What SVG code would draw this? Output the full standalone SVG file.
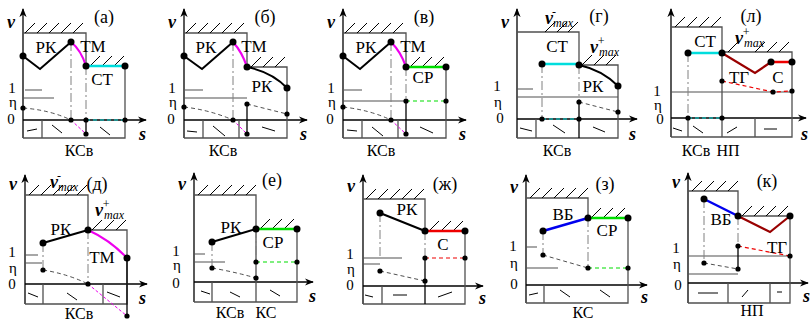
<svg xmlns="http://www.w3.org/2000/svg" width="810" height="324" viewBox="0 0 810 324">
<style>
.ax{stroke:#000;stroke-width:1.3;fill:none}
.bx{stroke:#505050;stroke-width:1.3;fill:none}
.ht{stroke:#000;stroke-width:1;fill:none}
.th{stroke:#505050;stroke-width:1.2;fill:none}
.dd{stroke:#505050;stroke-width:1;stroke-dasharray:4 3;fill:none}
.dc{stroke:#808080;stroke-width:1;stroke-dasharray:9 3 2 3;fill:none}
.rk{stroke:#000;stroke-width:2;fill:none}
.mg{stroke:#ee00ee;stroke-width:2.2;fill:none}
.mgd{stroke:#ee00ee;stroke-width:1;stroke-dasharray:3 2;fill:none}
.cy{stroke:#00dddd;stroke-width:2.5;fill:none}
.cyd{stroke:#00dddd;stroke-width:1.2;stroke-dasharray:4 3;fill:none}
.gr{stroke:#00dd00;stroke-width:2.5;fill:none}
.grd{stroke:#00dd00;stroke-width:1.2;stroke-dasharray:4 3;fill:none}
.rd{stroke:#ee0000;stroke-width:2.5;fill:none}
.rdd{stroke:#ee0000;stroke-width:1.2;stroke-dasharray:4 3;fill:none}
.br{stroke:#990000;stroke-width:2.2;fill:none}
.bl{stroke:#0000ee;stroke-width:2.5;fill:none}
.mk{stroke:#000;stroke-width:1;fill:none}
.t{font-family:"Liberation Serif",serif;font-size:17px;text-anchor:middle;fill:#000}
.n{font-family:"Liberation Serif",serif;font-size:15px;text-anchor:middle;fill:#000}
.k{font-family:"Liberation Serif",serif;font-size:16px;text-anchor:middle;fill:#000}
.p{font-family:"Liberation Serif",serif;font-size:18px;text-anchor:middle;fill:#000}
.it{font-family:"Liberation Serif",serif;font-size:18px;font-style:italic;font-weight:bold;fill:#000}
.sm{font-family:"Liberation Serif",serif;font-size:12px;font-style:italic;font-weight:normal}
</style>
<defs>
<marker id="ar" viewBox="0 0 10 10" refX="9" refY="5" markerWidth="9" markerHeight="9" orient="auto" markerUnits="userSpaceOnUse"><path d="M0,1 L10,5 L0,9 L3,5 Z" fill="#000"/></marker>
</defs>

<!-- panel а -->
<g id="panel-a">
<path class="ax" d="M23,138 V9" marker-end="url(#ar)"/>
<path class="ax" d="M23,120 H146" marker-end="url(#ar)"/>
<text class="it" x="7" y="28">v</text>
<text class="p" x="104" y="23">(а)</text>
<path class="bx" d="M23,33 H86 V66 H125 V138 H23 M42,120 V138"/>
<path class="ht" d="M25,33 l10,-10 M37,33 l10,-10 M49,33 l10,-10 M61,33 l10,-10 M73,33 l10,-10 M90,66 l10,-10 M102,66 l10,-10 M114,66 l10,-10"/>
<path class="th" d="M25,90 H42 M23,98 H54"/>
<text class="n" x="12" y="93">1</text><text class="n" x="13" y="107">η</text><text class="n" x="11" y="124">0</text>
<path class="dc" d="M71,42 V120 M86,66 V120"/>
<polyline class="rk" points="23,56 40,69 71,42"/>
<path class="mg" d="M71,42 Q81,50 86,66"/>
<path class="cy" d="M86,66 H125"/>
<path class="dd" d="M23,108 Q50,110 71,120"/>
<path class="mgd" d="M71,120 L86,134"/>
<path class="cyd" d="M86,120 H125"/>
<path class="ax" d="M86,120 V134"/>
<path class="mk" d="M27,131 L37,129 M52,125 L62,133 M100,127 L110,135"/>
<g fill="#000"><circle cx="23" cy="56" r="3.5"/><circle cx="71" cy="42" r="3.5"/><circle cx="86" cy="66" r="3.5"/><circle cx="125" cy="66" r="3.5"/>
<circle cx="23" cy="108" r="2.6"/><circle cx="71" cy="120" r="2.6"/><circle cx="86" cy="120" r="2.6"/><circle cx="125" cy="120" r="2.6"/><circle cx="86" cy="134" r="2.6"/></g>
<text class="t" x="46" y="53">РК</text><text class="t" x="93" y="52">ТМ</text><text class="t" x="102" y="85">СТ</text>
<text class="it" x="139" y="140">s</text><text class="k" x="79" y="156">КСв</text>
</g>

<!-- panel б -->
<g id="panel-b">
<path class="ax" d="M184,138 V9" marker-end="url(#ar)"/>
<path class="ax" d="M184,120 H307" marker-end="url(#ar)"/>
<text class="it" x="168" y="28">v</text>
<text class="p" x="265" y="23">(б)</text>
<path class="bx" d="M184,33 H247 V67 H287 V138 H184 M203,120 V138 M239,120 V138"/>
<path class="ht" d="M186,33 l10,-10 M198,33 l10,-10 M210,33 l10,-10 M222,33 l10,-10 M234,33 l10,-10 M251,67 l10,-10 M263,67 l10,-10 M275,67 l10,-10"/>
<path class="th" d="M185,90 H203 M184,98 H247"/>
<text class="n" x="172" y="93">1</text><text class="n" x="173" y="107">η</text><text class="n" x="171" y="124">0</text>
<path class="dc" d="M233,42 V120"/>
<polyline class="rk" points="184,56 202,69 233,42"/>
<path class="mg" d="M233,42 Q242,52 247,67"/>
<path class="rk" d="M247,67 Q272,72 287,88"/>
<path class="dd" d="M184,107 Q210,110 233,120 M247,104 L287,114"/>
<path class="mgd" d="M233,120 L247,134"/>
<path class="ax" d="M247,104 V134"/>
<path class="mk" d="M187,131 L197,132 M213,126 L225,136 M262,127 L275,131"/>
<g fill="#000"><circle cx="184" cy="56" r="3.5"/><circle cx="233" cy="42" r="3.5"/><circle cx="247" cy="67" r="3.5"/><circle cx="287" cy="88" r="3.5"/>
<circle cx="184" cy="107" r="2.6"/><circle cx="233" cy="120" r="2.6"/><circle cx="247" cy="104" r="2.6"/><circle cx="247" cy="134" r="2.6"/><circle cx="287" cy="114" r="2.6"/></g>
<text class="t" x="206" y="53">РК</text><text class="t" x="254" y="52">ТМ</text><text class="t" x="262" y="92">РК</text>
<text class="it" x="300" y="140">s</text><text class="k" x="223" y="156">КСв</text>
</g>

<!-- panel в -->
<g id="panel-v">
<path class="ax" d="M343,138 V9" marker-end="url(#ar)"/>
<path class="ax" d="M343,120 H466" marker-end="url(#ar)"/>
<text class="it" x="327" y="28">v</text>
<text class="p" x="424" y="23">(в)</text>
<path class="bx" d="M343,33 H406 V67 H446 V138 H343 M362,120 V138 M398,120 V138"/>
<path class="ht" d="M345,33 l10,-10 M357,33 l10,-10 M369,33 l10,-10 M381,33 l10,-10 M393,33 l10,-10 M410,67 l10,-10 M422,67 l10,-10 M434,67 l10,-10"/>
<path class="th" d="M344,90 H362 M343,101 H406"/>
<text class="n" x="331" y="93">1</text><text class="n" x="332" y="107">η</text><text class="n" x="330" y="124">0</text>
<path class="dc" d="M391,42 V120 M406,67 V101"/>
<polyline class="rk" points="343,56 360,69 391,42"/>
<path class="mg" d="M391,42 Q401,52 406,67"/>
<path class="gr" d="M406,67 H446"/>
<path class="dd" d="M343,107 Q370,110 391,120"/>
<path class="mgd" d="M391,120 L406,134"/>
<path class="ax" d="M406,101 V134"/>
<path class="grd" d="M406,101 H446"/>
<path class="mk" d="M347,130 L357,131 M372,127 L383,136 M420,127 L433,133"/>
<g fill="#000"><circle cx="343" cy="56" r="3.5"/><circle cx="391" cy="42" r="3.5"/><circle cx="406" cy="67" r="3.5"/><circle cx="446" cy="67" r="3.5"/>
<circle cx="343" cy="107" r="2.6"/><circle cx="391" cy="120" r="2.6"/><circle cx="406" cy="101" r="2.6"/><circle cx="446" cy="101" r="2.6"/><circle cx="406" cy="134" r="2.6"/></g>
<text class="t" x="366" y="53">РК</text><text class="t" x="413" y="52">ТМ</text><text class="t" x="423" y="83">СР</text>
<text class="it" x="459" y="140">s</text><text class="k" x="381" y="156">КСв</text>
</g>

<!-- panel г -->
<g id="panel-g">
<path class="ax" d="M517,138 V9" marker-end="url(#ar)"/>
<path class="ax" d="M517,119 H637" marker-end="url(#ar)"/>
<text class="it" x="501" y="28">v</text>
<text class="it" x="545" y="24">v<tspan class="sm" dx="-1" dy="-8">-</tspan><tspan class="sm" dx="-3" dy="11">max</tspan></text>
<text class="p" x="599" y="22">(г)</text>
<path class="bx" d="M517,32 H579 V65 H618 V138 H517 M536,119 V138"/>
<path class="ht" d="M545,32 l10,-10 M557,32 l10,-10 M568,32 l10,-10 M582,65 l10,-10 M594,65 l10,-10 M606,65 l10,-10"/>
<text class="it" x="590" y="53">v<tspan class="sm" dx="-1" dy="-8">+</tspan><tspan class="sm" dx="-6" dy="11">max</tspan></text>
<path class="th" d="M517,89 H533 M517,97 H618"/>
<text class="n" x="497" y="91">1</text><text class="n" x="498" y="107">η</text><text class="n" x="500" y="123">0</text>
<path class="dc" d="M542,64 V119 M579,65 V102"/>
<path class="cy" d="M542,64 H579"/>
<path class="rk" d="M579,65 Q602,70 618,86"/>
<path class="dd" d="M579,102 L618,112"/>
<path class="cyd" d="M542,119 H579"/>
<path class="ax" d="M579,102 V138"/>
<path class="mk" d="M520,128 L532,131 M553,125 L565,133 M593,127 L605,132"/>
<g fill="#000"><circle cx="542" cy="64" r="3.5"/><circle cx="579" cy="65" r="3.5"/><circle cx="618" cy="86" r="3.5"/>
<circle cx="579" cy="102" r="2.6"/><circle cx="618" cy="112" r="2.6"/><circle cx="542" cy="119" r="2.6"/><circle cx="579" cy="119" r="2.6"/></g>
<text class="t" x="557" y="52">СТ</text><text class="t" x="593" y="92">РК</text>
<text class="it" x="629" y="140">s</text><text class="k" x="557" y="156">КСв</text>
</g>

<!-- panel л -->
<g id="panel-l">
<path class="ax" d="M671,137 V9" marker-end="url(#ar)"/>
<path class="ax" d="M671,118 H806" marker-end="url(#ar)"/>
<text class="p" x="751" y="22">(л)</text>
<text class="it" x="735" y="44">v<tspan class="sm" dx="-1" dy="-8">+</tspan><tspan class="sm" dx="-6" dy="11">max</tspan></text>
<path class="bx" d="M671,27 H722 V137 M722,52 H792 V137 H671 M688,118 V137 M755,118 V137"/>
<path class="ht" d="M675,27 l10,-10 M687,27 l10,-10 M699,27 l10,-10 M711,27 l10,-10 M728,52 l10,-10 M755,52 l10,-10 M767,52 l10,-10 M779,52 l10,-10"/>
<path class="th" d="M671,92 H792"/>
<text class="n" x="657" y="96">1</text><text class="n" x="658" y="110">η</text><text class="n" x="660" y="124">0</text>
<path class="dc" d="M688,53 V118"/>
<path class="cy" d="M688,53 H722"/>
<polyline class="br" points="722,53 755,73 771,62"/>
<path class="rd" d="M771,62 H792"/>
<path class="rdd" d="M722,81 L773,92 L792,91"/>
<path class="cyd" d="M688,118 H722"/>
<path class="mk" d="M673,128 L682,131 M693,126 L703,133 M727,133 L737,127 M764,129 L777,129"/>
<g fill="#000"><circle cx="688" cy="53" r="3.5"/><circle cx="722" cy="53" r="3.5"/><circle cx="771" cy="62" r="3.5"/><circle cx="792" cy="62" r="3.5"/>
<circle cx="722" cy="81" r="2.6"/><circle cx="773" cy="92" r="2.6"/><circle cx="792" cy="91" r="2.6"/><circle cx="688" cy="118" r="2.6"/><circle cx="722" cy="118" r="2.6"/></g>
<text class="t" x="705" y="47">СТ</text><text class="t" x="739" y="83">ТГ</text><text class="t" x="778" y="83">С</text>
<text class="it" x="801" y="140">s</text><text class="k" x="696" y="156">КСв</text><text class="k" x="728" y="156">НП</text>
</g>

<!-- panel д -->
<g id="panel-d">
<path class="ax" d="M25,304 V175" marker-end="url(#ar)"/>
<path class="ax" d="M25,284 H147" marker-end="url(#ar)"/>
<text class="it" x="9" y="190">v</text>
<text class="it" x="50" y="188">v<tspan class="sm" dx="-1" dy="-8">-</tspan><tspan class="sm" dx="-3" dy="11">max</tspan></text>
<text class="p" x="97" y="190">(д)</text>
<path class="bx" d="M25,195 H88 V230 H127 V304 H25 M43,284 V304 M103,284 V304"/>
<path class="ht" d="M29,195 l10,-10 M41,195 l10,-10 M53,195 l10,-10 M65,195 l10,-10 M77,195 l10,-10 M92,230 l10,-10 M104,230 l10,-10 M116,230 l10,-10"/>
<text class="it" x="95" y="216">v<tspan class="sm" dx="-1" dy="-8">+</tspan><tspan class="sm" dx="-6" dy="11">max</tspan></text>
<path class="th" d="M25,255 H38 M25,263 H42"/>
<text class="n" x="12" y="257">1</text><text class="n" x="13" y="273">η</text><text class="n" x="12" y="289">0</text>
<path class="dc" d="M43,243 V270 M88,230 V284"/>
<path class="rk" d="M43,243 L88,230"/>
<path class="mg" d="M88,230 Q110,240 127,258"/>
<path class="dd" d="M43,270 Q68,274 88,284"/>
<path class="mgd" d="M88,284 L127,316"/>
<path class="ax" d="M127,258 V316"/>
<path class="mk" d="M28,293 L38,297 M67,293 L77,300 M107,292 L120,297"/>
<g fill="#000"><circle cx="43" cy="243" r="3.5"/><circle cx="88" cy="230" r="3.5"/><circle cx="127" cy="258" r="3.5"/>
<circle cx="43" cy="270" r="2.6"/><circle cx="88" cy="284" r="2.6"/><circle cx="127" cy="316" r="2.6"/></g>
<text class="t" x="61" y="235">РК</text><text class="t" x="102" y="263">ТМ</text>
<text class="it" x="139" y="304">s</text><text class="k" x="79" y="319">КСв</text>
</g>

<!-- panel е -->
<g id="panel-e">
<path class="ax" d="M194,302 V173" marker-end="url(#ar)"/>
<path class="ax" d="M194,282 H313" marker-end="url(#ar)"/>
<text class="it" x="178" y="190">v</text>
<text class="p" x="272" y="186">(е)</text>
<path class="bx" d="M194,195 H256 V302 M256,229 H297 V302 H194 M212,282 V302"/>
<path class="ht" d="M198,195 l10,-10 M210,195 l10,-10 M222,195 l10,-10 M234,195 l10,-10 M246,195 l10,-10 M260,229 l10,-10 M272,229 l10,-10 M284,229 l10,-10"/>
<path class="th" d="M194,254 H205 M194,262 H225"/>
<text class="n" x="176" y="256">1</text><text class="n" x="177" y="270">η</text><text class="n" x="176" y="288">0</text>
<path class="dc" d="M212,242 V268 M256,229 V262"/>
<path class="rk" d="M212,242 L256,229"/>
<path class="gr" d="M256,229 H297"/>
<path class="dd" d="M212,268 Q235,272 256,278"/>
<path class="grd" d="M256,262 H297"/>
<path class="mk" d="M201,291 L210,294 M230,292 L240,297 M270,290 L280,296"/>
<g fill="#000"><circle cx="212" cy="242" r="3.5"/><circle cx="256" cy="229" r="3.5"/><circle cx="297" cy="229" r="3.5"/>
<circle cx="212" cy="268" r="2.6"/><circle cx="256" cy="278" r="2.6"/><circle cx="256" cy="262" r="2.6"/><circle cx="297" cy="262" r="2.6"/></g>
<text class="t" x="231" y="233">РК</text><text class="t" x="273" y="248">СР</text>
<text class="it" x="309" y="302">s</text><text class="k" x="230" y="318">КСв</text><text class="k" x="266" y="318">КС</text>
</g>

<!-- panel ж -->
<g id="panel-zh">
<path class="ax" d="M363,304 V175" marker-end="url(#ar)"/>
<path class="ax" d="M363,286 H483" marker-end="url(#ar)"/>
<text class="it" x="347" y="192">v</text>
<text class="p" x="445" y="190">(ж)</text>
<path class="bx" d="M363,199 H425 V231 H465 V304 H363 M382,286 V304"/>
<path class="ht" d="M366,199 l10,-10 M378,199 l10,-10 M390,199 l10,-10 M402,199 l10,-10 M414,199 l10,-10 M429,231 l10,-10 M441,231 l10,-10 M453,231 l10,-10"/>
<path class="th" d="M363,258 H402 M363,264 H380"/>
<text class="n" x="350" y="259">1</text><text class="n" x="351" y="274">η</text><text class="n" x="350" y="290">0</text>
<path class="dc" d="M380,213 V258 M425,231 V258"/>
<path class="rk" d="M380,213 L425,231"/>
<path class="rd" d="M425,231 H465"/>
<path class="dd" d="M380,271 L425,281"/>
<path class="rdd" d="M425,258 H465"/>
<path class="ax" d="M425,258 V304"/>
<path class="mk" d="M365,295 L373,297 M393,295 L407,295 M438,297 L452,292"/>
<g fill="#000"><circle cx="380" cy="213" r="3.5"/><circle cx="425" cy="231" r="3.5"/><circle cx="465" cy="231" r="3.5"/>
<circle cx="380" cy="271" r="2.6"/><circle cx="425" cy="281" r="2.6"/><circle cx="425" cy="258" r="2.6"/><circle cx="465" cy="258" r="2.6"/></g>
<text class="t" x="407" y="215">РК</text><text class="t" x="443" y="250">С</text>
<text class="it" x="479" y="304">s</text>
</g>

<!-- panel з -->
<g id="panel-z">
<path class="ax" d="M526,303 V175" marker-end="url(#ar)"/>
<path class="ax" d="M526,285 H647" marker-end="url(#ar)"/>
<text class="it" x="510" y="193">v</text>
<text class="p" x="605" y="190">(з)</text>
<path class="bx" d="M526,198 H588 V218 H628 V303 H526 M544,285 V303"/>
<path class="ht" d="M530,198 l10,-10 M542,198 l10,-10 M554,198 l10,-10 M566,198 l10,-10 M578,198 l10,-10 M591,218 l10,-10 M603,218 l10,-10 M615,218 l10,-10"/>
<path class="th" d="M526,247 H537 M526,268 H558"/>
<text class="n" x="513" y="251">1</text><text class="n" x="514" y="268">η</text><text class="n" x="514" y="289">0</text>
<path class="dc" d="M543,231 V255 M588,218 V268"/>
<path class="bl" d="M543,231 L588,218"/>
<path class="gr" d="M588,218 H628"/>
<path class="dd" d="M543,255 L588,268"/>
<path class="grd" d="M588,268 H628"/>
<path class="mk" d="M529,295 L538,293 M560,290 L570,297 M600,290 L610,297"/>
<g fill="#000"><circle cx="543" cy="231" r="3.5"/><circle cx="588" cy="218" r="3.5"/><circle cx="628" cy="218" r="3.5"/>
<circle cx="543" cy="255" r="2.6"/><circle cx="588" cy="268" r="2.6"/><circle cx="628" cy="268" r="2.6"/></g>
<text class="t" x="563" y="220">ВБ</text><text class="t" x="607" y="236">СР</text>
<text class="it" x="641" y="303">s</text><text class="k" x="583" y="318">КС</text>
</g>

<!-- panel к -->
<g id="panel-k">
<path class="ax" d="M688,303 V173" marker-end="url(#ar)"/>
<path class="ax" d="M688,283 H808" marker-end="url(#ar)"/>
<text class="it" x="672" y="188">v</text>
<text class="p" x="767" y="187">(к)</text>
<path class="bx" d="M688,191 H738 V216 M738,216 H790 V303 H688 M728,283 V303 M770,283 V303"/>
<path class="ht" d="M692,191 l10,-10 M704,191 l10,-10 M716,191 l10,-10 M728,191 l10,-10 M742,216 l10,-10 M754,216 l10,-10 M766,216 l10,-10 M778,216 l10,-10"/>
<path class="th" d="M688,256 H790 M688,274 H738"/>
<text class="n" x="676" y="253">1</text><text class="n" x="677" y="269">η</text><text class="n" x="678" y="290">0</text>
<path class="dc" d="M704,199 V263 M738,216 V246"/>
<path class="bl" d="M704,199 L738,216"/>
<polyline class="br" points="738,216 770,232 790,216"/>
<path class="ax" d="M738,246 V269"/>
<path class="dd" d="M704,263 L738,269"/>
<path class="rdd" d="M738,246 L790,256"/>
<path class="mk" d="M698,293 L718,293 M742,297 L748,290 M777,292 L782,292"/>
<g fill="#000"><circle cx="704" cy="199" r="3.5"/><circle cx="738" cy="216" r="3.5"/><circle cx="790" cy="216" r="3.5"/>
<circle cx="704" cy="263" r="2.6"/><circle cx="738" cy="269" r="2.6"/><circle cx="738" cy="246" r="2.6"/><circle cx="790" cy="256" r="2.6"/></g>
<text class="t" x="721" y="225">ВБ</text><text class="t" x="777" y="253">ТГ</text>
<text class="it" x="803" y="302">s</text><text class="k" x="752" y="316">НП</text>
</g>
</svg>
